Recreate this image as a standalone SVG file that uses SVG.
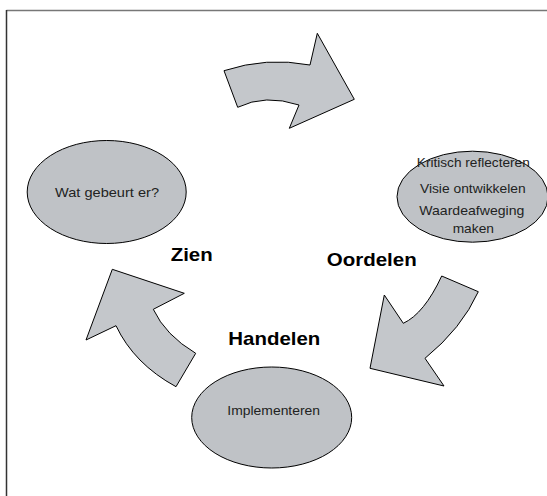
<svg xmlns="http://www.w3.org/2000/svg" width="547" height="496" viewBox="0 0 547 496">
<style>
.shape{fill:#c4c7cb;stroke:#000;stroke-width:1;stroke-linejoin:miter}
.ell{fill:#bfc2c6;stroke:#000;stroke-width:1}
.small{font-family:"Liberation Sans",Arial,sans-serif;font-size:13px;fill:#222}
.big{font-family:"Liberation Sans",Arial,sans-serif;font-size:18.5px;font-weight:bold;fill:#000}
</style>
<rect width="547" height="496" fill="#fff"/>
<line x1="6.5" y1="10.5" x2="547" y2="10.5" stroke="#777" stroke-width="1.5"/>
<line x1="6.5" y1="10" x2="6.5" y2="496" stroke="#333" stroke-width="1.5"/>
<g id="connectors">
<path id="arrow-top" class="shape" d="M224,70.7 Q266.4,56.7 310,65 L317.3,33.3 L354.3,99.3 L289.3,128.3 L299,105 Q265.1,93.8 237.7,107.3 Z"/>
<path id="arrow-right" class="shape" d="M441.7,276 L478.3,291.7 Q461.7,328.4 425,358.3 L444,386 L370,368.3 L384.3,295 L403.3,323.3 Q424.1,313.7 441.7,276 Z"/>
<path id="arrow-left" class="shape" d="M195.7,353.3 L176,386.7 Q134,363.8 116,325.7 L86,340 L112.3,269.3 L184.3,293.3 L153.3,309.3 Q165.5,335.3 195.7,353.3 Z"/>
</g>
<g id="node-zien">
<ellipse class="ell" cx="106.7" cy="192" rx="79.5" ry="51.5"/>
<text class="small" x="107" y="196.7" text-anchor="middle" textLength="104" lengthAdjust="spacingAndGlyphs">Wat gebeurt er?</text>
</g>
<g id="node-oordelen">
<ellipse class="ell" cx="472.5" cy="196.7" rx="75.5" ry="45.5"/>
<text class="small" x="473.3" y="167.3" text-anchor="middle" textLength="113" lengthAdjust="spacingAndGlyphs">Kritisch reflecteren</text>
<text class="small" x="472.8" y="193.3" text-anchor="middle" textLength="105.7" lengthAdjust="spacingAndGlyphs">Visie ontwikkelen</text>
<text class="small" x="471.8" y="215" text-anchor="middle" textLength="105" lengthAdjust="spacingAndGlyphs">Waardeafweging</text>
<text class="small" x="473.3" y="233.3" text-anchor="middle" textLength="41.3" lengthAdjust="spacingAndGlyphs">maken</text>
</g>
<g id="node-handelen">
<ellipse class="ell" cx="271.7" cy="417.5" rx="80" ry="50.5"/>
<text class="small" x="273.7" y="415" text-anchor="middle" textLength="92.7" lengthAdjust="spacingAndGlyphs">Implementeren</text>
</g>
<g id="labels">
<text class="big" x="170.7" y="260.7" textLength="42" lengthAdjust="spacingAndGlyphs">Zien</text>
<text class="big" x="326.7" y="265.7" textLength="90" lengthAdjust="spacingAndGlyphs">Oordelen</text>
<text class="big" x="228.3" y="345" textLength="92" lengthAdjust="spacingAndGlyphs">Handelen</text>
</g>
</svg>
